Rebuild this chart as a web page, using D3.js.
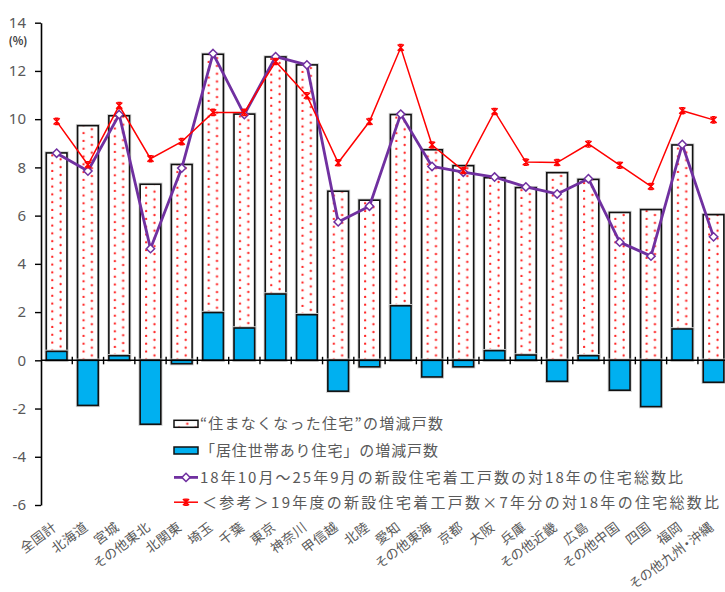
<!DOCTYPE html>
<html>
<head>
<meta charset="utf-8">
<script src="https://cdn.jsdelivr.net/npm/d3@7"></script>
<style>
  body { margin: 0; background: #fff; }
  svg { display: block; }
  text { font-family: "Noto Sans CJK JP", "Noto Sans", sans-serif; }
</style>
</head>
<body>
<svg id="chart" width="725" height="592"></svg>
<script>
// Regions (categories along the x axis)
const categories = ["全国計","北海道","宮城","その他東北","北関東","埼玉","千葉","東京","神奈川","甲信越","北陸","愛知","その他東海","京都","大阪","兵庫","その他近畿","広島","その他中国","四国","福岡","その他九州・沖縄"];

// "住まなくなった住宅" change (%), stacked above the occupied-housing change when that is positive
const vacantChange = [8.23, 9.73, 9.95, 7.30, 8.12, 10.71, 8.87, 9.83, 10.36, 7.01, 6.64, 7.93, 8.73, 8.07, 7.17, 6.94, 7.78, 7.31, 6.13, 6.25, 7.63, 6.04];

// 「居住世帯あり住宅」 change (%)
const occupiedChange = [0.37, -1.87, 0.19, -2.65, -0.14, 1.98, 1.34, 2.75, 1.89, -1.28, -0.27, 2.26, -0.69, -0.27, 0.40, 0.22, -0.87, 0.19, -1.24, -1.92, 1.30, -0.91];

// Housing starts Oct-2018 to Sep-2025 relative to 2018 housing stock (%)
const startsRatio = [8.59, 7.85, 10.19, 4.63, 7.97, 12.72, 10.19, 12.59, 12.25, 5.74, 6.39, 10.21, 8.04, 7.80, 7.60, 7.19, 6.90, 7.53, 4.90, 4.32, 8.95, 5.12];

// Reference: FY2019 housing starts x 7 years relative to 2018 housing stock (%)
const refRatio = [9.91, 8.11, 10.56, 8.36, 9.07, 10.28, 10.28, 12.39, 10.97, 8.19, 9.90, 12.97, 8.93, 7.87, 10.32, 8.22, 8.20, 8.97, 8.09, 7.21, 10.35, 9.97];

const yTicks = [-6, -4, -2, 0, 2, 4, 6, 8, 10, 12, 14];

const legendLabels = [
  "“住まなくなった住宅”の増減戸数",
  "「居住世帯あり住宅」の増減戸数",
  "18年10月～25年9月の新設住宅着工戸数の対18年の住宅総数比",
  "＜参考＞19年度の新設住宅着工戸数×7年分の対18年の住宅総数比"
];

const BLUE = "#00B0F0", PURPLE = "#7030A0", RED = "#FF0000", GRAY = "#595959";

const svg = d3.select("#chart");
const defs = svg.append("defs");

const x = d3.scaleBand()
  .domain(categories)
  .range([41, 729.2])
  .paddingInner(0.34)
  .paddingOuter(0.17);

const y = d3.scaleLinear().domain([-6, 14]).range([505, 22.7]);

// Bar geometry derived from the stacked values
const rows = categories.map((c, i) => {
  const base = Math.max(occupiedChange[i], 0);
  return {
    cat: c, i,
    occ: occupiedChange[i],
    vacLow: base, vacHigh: base + vacantChange[i],
    starts: startsRatio[i], ref: refRatio[i]
  };
});

// Dotted fill: one tile per bar so the dots line up with each bar's edges
function dotPattern(id, ox, oy) {
  const p = defs.append("pattern")
    .attr("id", id)
    .attr("patternUnits", "userSpaceOnUse")
    .attr("x", ox).attr("y", oy)
    .attr("width", 16.6).attr("height", 7.8);
  p.append("rect").attr("width", 16.6).attr("height", 7.8).attr("fill", "#fff");
  p.append("circle").attr("cx", 6).attr("cy", 6.8).attr("r", 1.15).attr("fill", RED).attr("opacity", 0.85);
  p.append("circle").attr("cx", 14.3).attr("cy", 2.9).attr("r", 1.15).attr("fill", RED).attr("opacity", 0.85);
  return `url(#${id})`;
}

// Axes
const zeroY = y(0);

const yAxis = d3.axisLeft(y).tickValues(yTicks).tickFormat(d => String(d))
  .tickSize(6).tickSizeOuter(0).tickPadding(9);
const gy = svg.append("g").attr("transform", "translate(41,0)").call(yAxis);
gy.select(".domain").attr("stroke", "#000").attr("stroke-width", 1.6);
gy.selectAll(".tick line").attr("stroke", "#000").attr("stroke-width", 1.4);
gy.selectAll(".tick text")
  .attr("fill", GRAY)
  .style("font-family", "'Noto Sans', 'DejaVu Sans', sans-serif")
  .style("font-size", "15px");

svg.append("text")
  .attr("x", 18).attr("y", 44.5)
  .attr("text-anchor", "middle")
  .attr("fill", "#404040")
  .style("font-size", "11px")
  .style("font-weight", "bold")
  .text("(%)");

// Bars
const bars = svg.append("g");
rows.forEach(d => {
  const bx = x(d.cat), bw = x.bandwidth();
  const vTop = y(d.vacHigh), vBot = y(d.vacLow);
  const fill = dotPattern("dots" + d.i, bx, vBot);
  // soft grey halo, then the outlined bar
  bars.append("rect").attr("x", bx).attr("y", vTop).attr("width", bw).attr("height", vBot - vTop)
    .attr("fill", "none").attr("stroke", "#d0d0d0").attr("stroke-width", 3.4);
  bars.append("rect").attr("x", bx).attr("y", vTop).attr("width", bw).attr("height", vBot - vTop)
    .attr("fill", fill).attr("stroke", "#111").attr("stroke-width", 1.6);

  const oy0 = y(Math.max(d.occ, 0)), oy1 = y(Math.min(d.occ, 0));
  bars.append("rect").attr("x", bx).attr("y", oy0).attr("width", bw).attr("height", oy1 - oy0)
    .attr("fill", "none").attr("stroke", "#d0d0d0").attr("stroke-width", 3.4);
  bars.append("rect").attr("x", bx).attr("y", oy0).attr("width", bw).attr("height", oy1 - oy0)
    .attr("fill", BLUE).attr("stroke", "#111").attr("stroke-width", 1.6);
});

// Category axis at zero with tick marks between categories
const step = x.step();
svg.append("line")
  .attr("x1", 41).attr("x2", 729).attr("y1", zeroY).attr("y2", zeroY)
  .attr("stroke", "#000").attr("stroke-width", 1.6);
svg.append("g").selectAll("line")
  .data(d3.range(1, categories.length + 1))
  .join("line")
  .attr("x1", k => 41 + k * step).attr("x2", k => 41 + k * step)
  .attr("y1", zeroY - 3.5).attr("y2", zeroY + 4)
  .attr("stroke", "#000").attr("stroke-width", 1.4);

// Category labels, rotated
svg.append("g").selectAll("text")
  .data(categories)
  .join("text")
  .attr("transform", c => `translate(${x(c) + x.bandwidth() / 2 + 1},${529}) rotate(-37)`)
  .attr("text-anchor", "end")
  .attr("fill", GRAY)
  .style("font-size", "13.3px")
  .style("letter-spacing", "0.4px")
  .style("font-feature-settings", "'palt'")
  .text(c => c);

// Lines
const cx = d => x(d.cat) + x.bandwidth() / 2;

svg.append("path")
  .datum(rows)
  .attr("fill", "none").attr("stroke", PURPLE).attr("stroke-width", 2.8).attr("stroke-linejoin", "round")
  .attr("d", d3.line().x(cx).y(d => y(d.starts)));

const diamond = d3.symbol().type(d3.symbolDiamond2).size(44);
svg.append("g").selectAll("path")
  .data(rows)
  .join("path")
  .attr("transform", d => `translate(${cx(d)},${y(d.starts)})`)
  .attr("d", diamond)
  .attr("fill", "#fff").attr("stroke", PURPLE).attr("stroke-width", 1.5);

svg.append("path")
  .datum(rows)
  .attr("fill", "none").attr("stroke", RED).attr("stroke-width", 1.5)
  .attr("d", d3.line().x(cx).y(d => y(d.ref)));

function starMarker(g, px, py) {
  const s = 3.1;
  g.append("path")
    .attr("d", `M${px - s},${py - s}L${px + s},${py + s}M${px - s},${py + s}L${px + s},${py - s}M${px},${py - s}L${px},${py + s}M${px - s * 0.6},${py - s}L${px + s * 0.6},${py - s}M${px - s * 0.6},${py + s}L${px + s * 0.6},${py + s}`)
    .attr("stroke", RED).attr("stroke-width", 1.4).attr("fill", "none");
}
const redMarks = svg.append("g");
rows.forEach(d => starMarker(redMarks, cx(d), y(d.ref)));

// Legend
const lg = svg.append("g");
const lx = 174, lw = 24;
const rowY = [423.8, 450.5, 477.4, 502.2];
const textEnds = [443, 438, 683, 719];

lg.append("rect").attr("x", lx).attr("y", rowY[0] - 3.5).attr("width", lw).attr("height", 7)
  .attr("fill", dotPattern("dotsLegend", lx - 1, rowY[0] + 3.5 + 1.3)).attr("stroke", "#111").attr("stroke-width", 1.5);
lg.append("rect").attr("x", lx).attr("y", rowY[1] - 3.5).attr("width", lw).attr("height", 7)
  .attr("fill", BLUE).attr("stroke", "#111").attr("stroke-width", 1.5);
lg.append("line").attr("x1", lx).attr("x2", lx + lw).attr("y1", rowY[2]).attr("y2", rowY[2])
  .attr("stroke", PURPLE).attr("stroke-width", 2.8);
lg.append("path").attr("transform", `translate(${lx + lw / 2},${rowY[2]})`).attr("d", diamond)
  .attr("fill", "#fff").attr("stroke", PURPLE).attr("stroke-width", 1.5);
lg.append("line").attr("x1", lx).attr("x2", lx + lw).attr("y1", rowY[3]).attr("y2", rowY[3])
  .attr("stroke", RED).attr("stroke-width", 1.5);
starMarker(lg, lx + lw / 2, rowY[3]);

lg.selectAll("text.leg")
  .data(legendLabels)
  .join("text")
  .attr("class", "leg")
  .attr("x", (d, i) => i === 3 ? 202 : 200)
  .attr("y", (d, i) => rowY[i] + 5.5)
  .attr("fill", GRAY)
  .style("font-size", "15px")
  .attr("textLength", (d, i) => textEnds[i] - (i === 3 ? 202 : 200))
  .attr("lengthAdjust", "spacing")
  .text(d => d);
</script>
</body>
</html>
